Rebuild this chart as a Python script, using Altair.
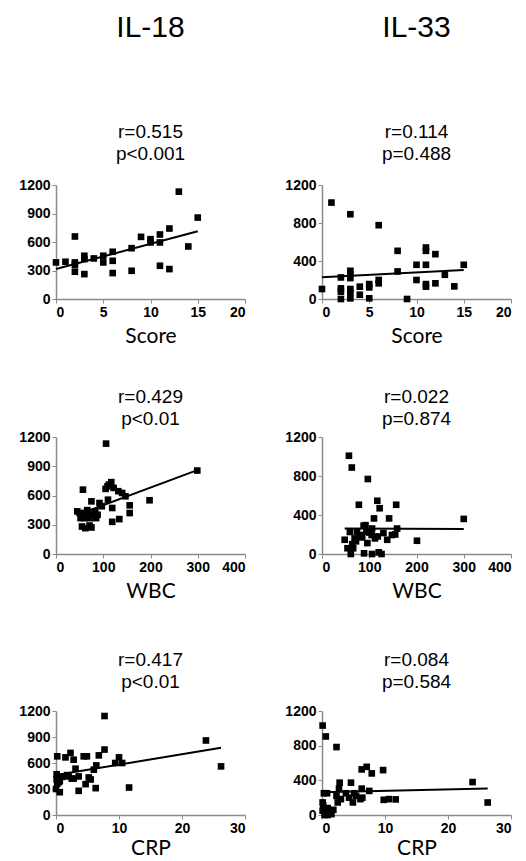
import altair as alt
import pandas as pd

# ---- data ----
score_18 = [0, 1, 2, 2, 2, 2, 3, 3, 3, 4, 5, 5, 6, 6, 6, 8, 8, 9, 10, 10, 11, 11, 11, 12, 12, 13, 14, 15]
il18_score = [385, 392, 658, 385, 360, 287, 455, 420, 262, 427, 455, 385, 497, 402, 273, 535, 297, 654,
              630, 595, 679, 595, 350, 742, 315, 1130, 553, 857]

score_33 = [0, 1, 2, 2, 2, 2, 3, 3, 3, 3, 3, 3, 3, 4, 4, 5, 5, 5, 6, 6, 6, 8, 8, 9, 10, 10, 11, 11, 11, 11,
            11, 12, 12, 13, 14, 15]
il33_score = [105, 1015, 227, 112, 77, 0, 892, 297, 262, 220, 105, 70, 7, 130, 45, 157, 122, 7, 777, 200,
              165, 507, 290, 0, 360, 200, 542, 507, 360, 157, 130, 472, 165, 255, 133, 360]

wbc_18 = [106, 57, 117, 105, 122, 132, 140, 147, 198, 75, 92, 110, 156, 119, 156, 45, 50, 55, 61, 64, 68,
          60, 52, 71, 78, 85, 134, 119, 55, 62, 71, 75, 299, 109, 112, 88, 97, 83, 66]
il18_wbc = [1132, 660, 737, 668, 678, 644, 626, 592, 551, 540, 523, 557, 499, 472, 420, 437, 420, 404, 420,
            385, 430, 368, 368, 368, 404, 368, 358, 330, 282, 265, 292, 272, 856, 694, 712, 402, 490, 437, 450]

wbc_33 = [57, 63, 97, 78, 117, 122, 157, 110, 142, 92, 88, 59, 74, 106, 159, 201, 300, 61, 89, 106,
          120, 126, 48, 64, 69, 96, 112, 118, 138, 148, 155, 81, 105, 94, 54, 66, 100, 130, 85, 72]
il33_wbc = [1008, 887, 769, 505, 546, 469, 505, 365, 365, 296, 290, 226, 226, 261, 261, 136, 360, 0, 7, 0,
            17, 0, 146, 101, 160, 112, 160, 180, 146, 195, 200, 195, 195, 230, 59, 59, 220, 215, 170, 130]

crp_18 = [7.7, 7.7, 0.2, 1.5, 2.3, 2.8, 4.4, 4.9, 6.8, 6.4, 10.0, 9.4, 10.5, 3.1, 2.0, 3.6, 5.2, 6.0, 0.1,
          0.3, 0.5, 0.1, 0.6, 0.6, 0.0, 3.6, 4.7, 5.5, 6.3, 11.6, 23.8, 26.2, 2.5, 1.0, 0.2, 1.8, 2.8]
il18_crp = [1142, 755, 677, 665, 716, 638, 677, 677, 688, 572, 665, 600, 600, 534, 445, 445, 433, 523, 410,
            440, 380, 470, 395, 263, 300, 279, 356, 410, 310, 317, 860, 561, 420, 440, 360, 460, 420]

crp_33 = [0.1, 0.6, 2.3, 6.3, 7.1, 7.9, 9.7, 2.8, 4.6, 2.7, 6.3, 0.3, 0.8, 7.5, 2.3, 3.8, 5.1, 5.4, 6.4,
          3.0, 4.3, 9.8, 10.6, 2.5, 4.9, 6.1, 0.1, 0.2, 0.1, 0.6, 0.9, 1.3, 1.5, 0.4, 0.9, 11.7, 23.9,
          26.3, 1.8]
il33_crp = [1032, 906, 784, 526, 556, 480, 518, 373, 373, 304, 304, 251, 251, 278, 220, 251, 251, 220, 200,
            183, 200, 175, 183, 145, 145, 183, 145, 110, 50, 30, 80, 50, 10, 0, 0, 180, 380, 144, 60]

headers = ["IL-18", "IL-33"]
stats = [["r=0.515", "p<0.001"], ["r=0.114", "p=0.488"],
         ["r=0.429", "p<0.01"], ["r=0.022", "p=0.874"],
         ["r=0.417", "p<0.01"], ["r=0.084", "p=0.584"]]
x_names = ["Score", "WBC", "CRP"]
x_domains = [[0, 20], [0, 400], [0, 30]]
x_ticks = [[0, 5, 10, 15, 20], [0, 100, 200, 300, 400], [0, 10, 20, 30]]
y_ticks_18 = [0, 300, 600, 900, 1200]
y_ticks_33 = [0, 400, 800, 1200]

PW = 189
row_heights = [114, 117, 104]
row_offsets = [14, 1, 12]
row_title_pad = [6, 6, 2]


def panel(xv, yv, row, col):
    df = pd.DataFrame({"x": xv, "y": yv})
    xenc = alt.X("x:Q", title=x_names[row],
                 scale=alt.Scale(domain=x_domains[row], nice=False, zero=True),
                 axis=alt.Axis(values=x_ticks[row], format="d", labelOverlap=False,
                               titlePadding=row_title_pad[row]))
    yenc = alt.Y("y:Q", title=None,
                 scale=alt.Scale(domain=[0, 1200], nice=False),
                 axis=alt.Axis(values=y_ticks_18 if col == 0 else y_ticks_33, format="d",
                               labelOverlap=False))
    base = alt.Chart(df).encode(x=xenc, y=yenc)
    pts = base.mark_square(size=44, color="black", opacity=1)
    line = base.transform_regression("x", "y").mark_line(color="black", strokeWidth=2)
    if row == 0:
        title = alt.TitleParams(text=headers[col], subtitle=stats[row * 2 + col],
                                fontSize=30, font="Liberation Sans", fontWeight="normal", color="black",
                                subtitleFont="Liberation Sans", subtitleFontSize=19,
                                subtitleLineHeight=22, subtitleColor="black", subtitlePadding=80,
                                anchor="middle", frame="group", offset=row_offsets[row])
    else:
        title = alt.TitleParams(text=stats[row * 2 + col], fontSize=19, lineHeight=22,
                                font="Liberation Sans", fontWeight="normal", color="black",
                                anchor="middle", frame="group", offset=row_offsets[row])
    return alt.layer(pts, line).properties(width=PW, height=row_heights[row], title=title)


rows = []
data_pairs = [[(score_18, il18_score), (score_33, il33_score)],
              [(wbc_18, il18_wbc), (wbc_33, il33_wbc)],
              [(crp_18, il18_crp), (crp_33, il33_crp)]]
for r in range(3):
    rows.append(alt.hconcat(panel(*data_pairs[r][0], r, 0), panel(*data_pairs[r][1], r, 1), spacing=38))

top_part = alt.vconcat(rows[0], rows[1], spacing=42)
chart = alt.vconcat(top_part, rows[2], spacing=50).properties(
    padding={"left": 10, "top": 5, "right": 5, "bottom": 0},
    background="white"
).configure_view(stroke=None).configure_axis(
    grid=False, domainColor="#8a8a8a", tickColor="#8a8a8a", tickSize=4, domainWidth=1.5,
    labelFont="Liberation Sans", labelFontWeight="bold", labelFontSize=14, labelColor="black",
    labelPadding=2, titleFont="Lato", titleFontSize=21, titleFontWeight="normal", titleColor="black",
    titlePadding=6
)

chart.save("out.html", embed_options={"renderer": "svg", "actions": False})
